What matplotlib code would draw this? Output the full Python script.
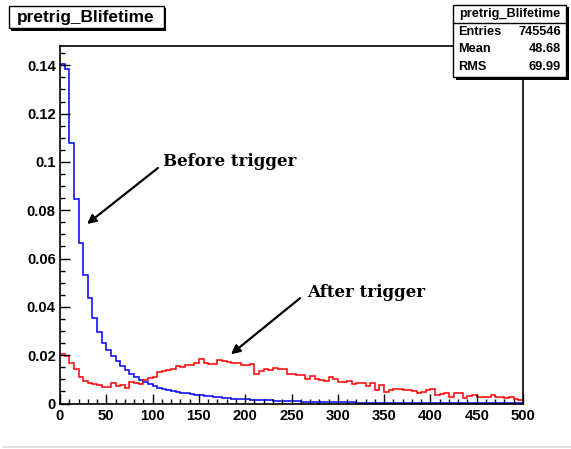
import matplotlib
matplotlib.use("Agg")
import matplotlib.pyplot as plt
import numpy as np
from matplotlib.patches import Rectangle
from matplotlib.lines import Line2D
from matplotlib.ticker import MultipleLocator, FuncFormatter

# ---- histogram contents (100 bins of width 5 from 0 to 500) ----
bin_edges = np.arange(0, 505, 5)

before_trigger = [
    0.1405, 0.1386, 0.1080, 0.0845, 0.0665, 0.0531, 0.0436, 0.0356, 0.0294, 0.0249,
    0.0221, 0.0195, 0.0176, 0.0156, 0.0137, 0.0121, 0.0108, 0.0096, 0.0087, 0.0079,
    0.0072, 0.0066, 0.0061, 0.0056, 0.0052, 0.0048, 0.0045, 0.0042, 0.0039, 0.0036,
    0.0034, 0.0031, 0.0029, 0.0027, 0.0025, 0.0023, 0.0022, 0.0020, 0.0019, 0.0018,
    0.0017, 0.0016, 0.0015, 0.0014, 0.0013, 0.0013, 0.0012, 0.0011, 0.0011, 0.0010,
    0.0009, 0.0009, 0.0008, 0.0008, 0.0007, 0.0007, 0.0007, 0.0006, 0.0006, 0.0006,
    0.0005, 0.0005, 0.0005, 0.0005, 0.0004, 0.0004, 0.0004, 0.0004, 0.0004, 0.0003,
    0.0003, 0.0003, 0.0003, 0.0003, 0.0003, 0.0003, 0.0002, 0.0002, 0.0002, 0.0002,
    0.0002, 0.0002, 0.0002, 0.0002, 0.0002, 0.0001, 0.0001, 0.0001, 0.0001, 0.0001,
    0.0001, 0.0001, 0.0001, 0.0001, 0.0001, 0.0001, 0.0001, 0.0001, 0.0001, 0.0001,
]

after_trigger = [
    0.0204, 0.0196, 0.0166, 0.0141, 0.0108, 0.0094, 0.0085, 0.0081, 0.0075, 0.0069,
    0.0069, 0.0083, 0.0072, 0.0075, 0.0066, 0.0089, 0.0083, 0.0079, 0.0099, 0.0106,
    0.0108, 0.0130, 0.0134, 0.0138, 0.0144, 0.0154, 0.0152, 0.0161, 0.0161, 0.0168,
    0.0183, 0.0166, 0.0163, 0.0163, 0.0179, 0.0176, 0.0172, 0.0166, 0.0168, 0.0160,
    0.0159, 0.0163, 0.0124, 0.0135, 0.0142, 0.0138, 0.0145, 0.0142, 0.0143, 0.0124,
    0.0121, 0.0119, 0.0117, 0.0103, 0.0113, 0.0103, 0.0096, 0.0092, 0.0110, 0.0102,
    0.0087, 0.0087, 0.0094, 0.0080, 0.0085, 0.0083, 0.0072, 0.0083, 0.0055, 0.0078,
    0.0048, 0.0056, 0.0062, 0.0059, 0.0055, 0.0055, 0.0051, 0.0042, 0.0046, 0.0055,
    0.0058, 0.0034, 0.0038, 0.0045, 0.0028, 0.0042, 0.0042, 0.0021, 0.0030, 0.0034,
    0.0028, 0.0028, 0.0028, 0.0037, 0.0028, 0.0025, 0.0021, 0.0028, 0.0018, 0.0014,
]

hist_name = "pretrig_Blifetime"
stat_labels = ["Entries", "Mean", "RMS"]
stat_values = ["745546", "48.68", "69.99"]

W, H = 571, 449
fig = plt.figure(figsize=(W / 100, H / 100), dpi=100)
fig.patch.set_facecolor("white")

SANS = "Liberation Sans"
SERIF = "DejaVu Serif"


def fx(x):
    return x / W


def fy(y):
    return 1 - y / H


# frame: left 60, right 523, top 46, bottom 403.5 (pixels)
ax = fig.add_axes([fx(60), fy(403.5), (523 - 60) / W, (403.5 - 46) / H])
ax.set_xlim(0, 500)
ax.set_ylim(0, 0.148)

ax.stairs(before_trigger, bin_edges, color="#0000ff", lw=1.1, baseline=None)
ax.stairs(after_trigger, bin_edges, color="#ff0000", lw=1.1, baseline=None)

for s in ax.spines.values():
    s.set_linewidth(1.2)
    s.set_color("black")

ax.xaxis.set_major_locator(MultipleLocator(50))
ax.xaxis.set_minor_locator(MultipleLocator(10))
ax.yaxis.set_major_locator(MultipleLocator(0.02))
ax.yaxis.set_minor_locator(MultipleLocator(0.005))
ax.yaxis.set_major_formatter(FuncFormatter(lambda v, p: "%g" % round(v, 4)))
ax.xaxis.set_major_formatter(FuncFormatter(lambda v, p: "%g" % v))
ax.tick_params(which="both", direction="in", top=False, right=False, width=1.0,
               color="black")
ax.tick_params(which="major", length=7.2)
ax.tick_params(which="minor", length=3.6)
ax.tick_params(axis="y", which="major", pad=3)
ax.tick_params(axis="x", which="major", pad=4)
for lab in ax.get_xticklabels() + ax.get_yticklabels():
    lab.set_fontfamily(SANS)
    lab.set_fontweight("bold")
    lab.set_fontsize(10.7)

# annotations with arrows
arrow_kw = dict(arrowstyle="-|>", color="black", lw=1.6, mutation_scale=13,
                shrinkA=0, shrinkB=0)
ax.annotate("", xy=(29.2, 0.0743), xytext=(105.8, 0.0975), arrowprops=arrow_kw)
ax.annotate("", xy=(184.7, 0.0204), xytext=(259.2, 0.0436), arrowprops=arrow_kw)
ax.text(111.0, 0.1003, "Before trigger", family=SERIF, weight="bold",
        fontsize=12, ha="left", va="center")
ax.text(266.5, 0.0458, "After trigger", family=SERIF, weight="bold",
        fontsize=12, ha="left", va="center")


def shadow_box(x0, y0, x1, y1, z):
    sh = Rectangle((fx(x0 + 2.5), fy(y1 + 2.5)), (x1 - x0) / W, (y1 - y0) / H,
                   transform=fig.transFigure, facecolor="black", edgecolor="black",
                   lw=0, zorder=z)
    bx = Rectangle((fx(x0), fy(y1)), (x1 - x0) / W, (y1 - y0) / H,
                   transform=fig.transFigure, facecolor="white", edgecolor="black",
                   lw=1.0, zorder=z + 0.1)
    fig.add_artist(sh)
    fig.add_artist(bx)


# title box
shadow_box(8.5, 5.5, 163.5, 28.0, 5)
fig.text(fx(86), fy(17.5), hist_name, family=SANS, weight="bold", fontsize=12.4,
         ha="center", va="center", zorder=6)

# statistics box
shadow_box(453.5, 5.0, 566.0, 77.0, 5)
fig.add_artist(Line2D([fx(453.5), fx(566.0)], [fy(22.5), fy(22.5)],
                      transform=fig.transFigure, color="black", lw=1.0, zorder=6))
fig.text(fx(509.5), fy(14.5), hist_name, family=SANS, weight="bold", fontsize=9.2,
         ha="center", va="center", zorder=6)
for i, (lab, val) in enumerate(zip(stat_labels, stat_values)):
    yy = 32 + 17.5 * i
    fig.text(fx(458), fy(yy), lab, family=SANS, weight="bold", fontsize=9.2,
             ha="left", va="center", zorder=6)
    fig.text(fx(561), fy(yy), val, family=SANS, weight="bold", fontsize=9.2,
             ha="right", va="center", zorder=6)

# thin window border line at the bottom
fig.add_artist(Line2D([fx(4), fx(571)], [fy(447), fy(447)], transform=fig.transFigure,
                      color="#dcdcdc", lw=1.2, zorder=1))

fig.savefig("out.png", dpi=100, facecolor="white")
